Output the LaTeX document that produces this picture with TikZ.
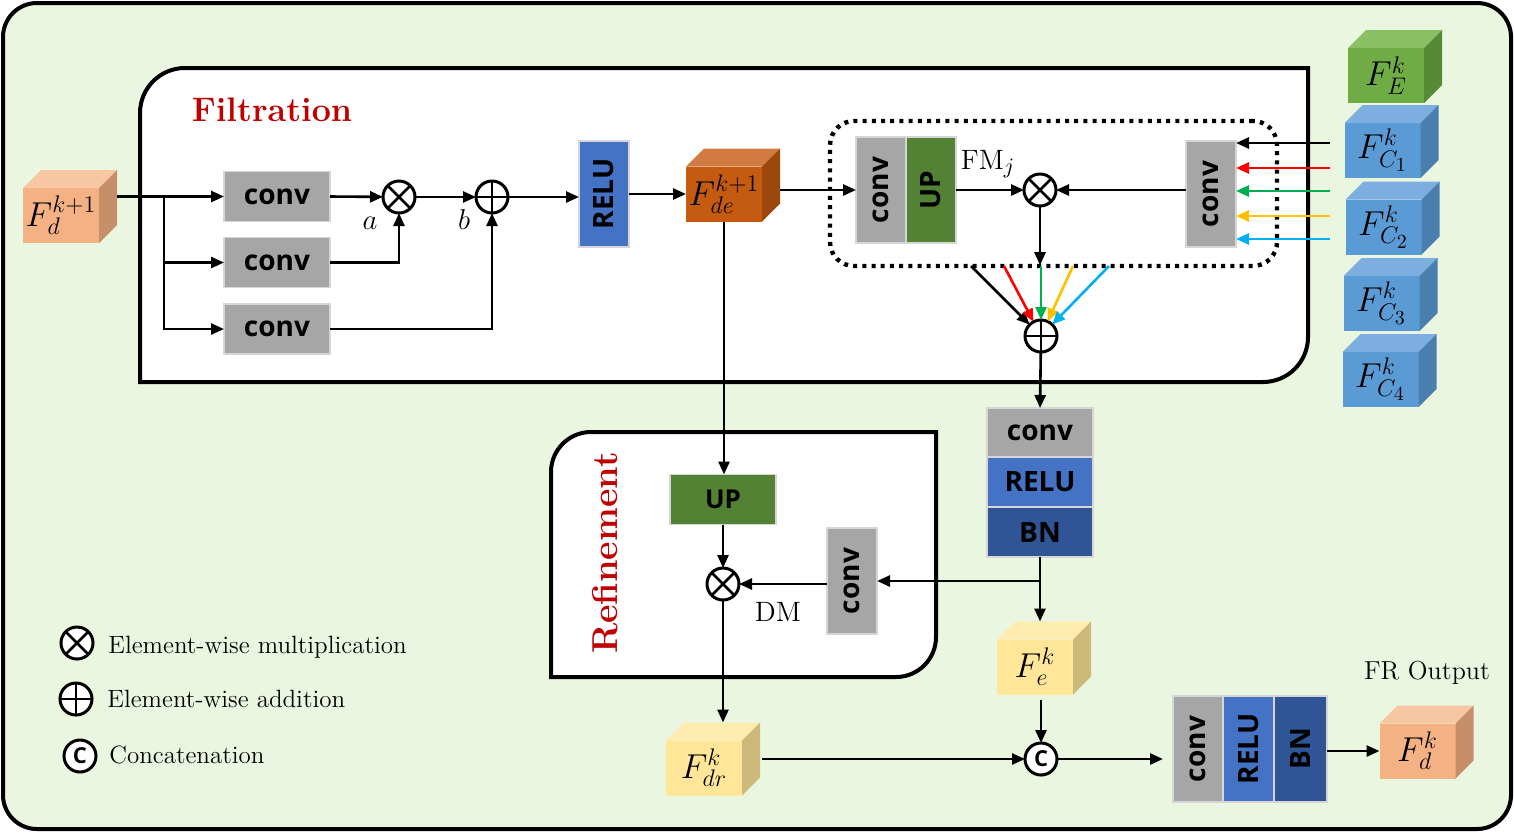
\documentclass[tikz,border=0pt]{standalone}
\usepackage{fontspec}
\newfontfamily\boxfont{Open Sans}
\usetikzlibrary{arrows.meta,calc}
\DeclareMathSizes{16}{16}{12}{10}
\DeclareMathSizes{14}{14}{11}{9}

\definecolor{bggreen}{HTML}{EBF6E0}
\definecolor{convgray}{HTML}{A6A6A6}
\definecolor{boxedge}{HTML}{D6D6D6}
\definecolor{relublue}{HTML}{4472C4}
\definecolor{bnblue}{HTML}{2F5597}
\definecolor{upgreen}{HTML}{548235}
\definecolor{titlered}{HTML}{C00000}
\definecolor{orF}{HTML}{F4B183}\definecolor{orT}{HTML}{F7C7A3}\definecolor{orS}{HTML}{C68F69}
\definecolor{deF}{HTML}{C55A11}\definecolor{deT}{HTML}{D27B40}\definecolor{deS}{HTML}{9D470D}
\definecolor{geF}{HTML}{6FAC46}\definecolor{geT}{HTML}{8BBF64}\definecolor{geS}{HTML}{568A34}
\definecolor{blF}{HTML}{5B9BD5}\definecolor{blT}{HTML}{7CAFE0}\definecolor{blS}{HTML}{4A7EAF}
\definecolor{yeF}{HTML}{FFE699}\definecolor{yeT}{HTML}{FFECB0}\definecolor{yeS}{HTML}{CDBA7B}
\definecolor{lred}{HTML}{FF0000}\definecolor{lgreen}{HTML}{00B050}
\definecolor{lyellow}{HTML}{FFC000}\definecolor{lcyan}{HTML}{00B0F0}

\newcommand\mycube[7]{%
  \node[cubeface,fill=#4] (#1) at (#2,#3) {#7};
  \fill[#5] (#1.north west) -- ($(#1.north west)+(18,-18)$) -- ($(#1.north east)+(18,-18)$) -- (#1.north east) -- cycle;
  \fill[#6] (#1.north east) -- ($(#1.north east)+(18,-18)$) -- ($(#1.south east)+(18,-18)$) -- (#1.south east) -- cycle;}

\newcommand\trbox[5]{\filldraw[panel] (#1,#4) -- (#1,#2+#5) .. controls (#1,#2+0.4477*#5) and (#1+0.4477*#5,#2) .. (#1+#5,#2) -- (#3,#2) -- (#3,#4-#5) .. controls (#3,#4-0.4477*#5) and (#3-0.4477*#5,#4) .. (#3-#5,#4) -- cycle;}

\begin{document}
\begin{tikzpicture}[x=0.5pt,y=-0.5pt,
  ln/.style={line width=1.25pt},
  arr/.style={line width=1.3pt,-{Triangle[length=6.5pt,width=5.5pt]}},
  blk/.style={draw=boxedge,line width=0.9pt,inner sep=0pt,outer sep=0pt,font=\boxfont\bfseries\fontsize{14}{16}\selectfont},
  hbox/.style={blk,minimum width=53pt,minimum height=25pt},
  vbox/.style={blk,minimum width=25pt,minimum height=53pt},
  op/.style={circle,draw,line width=1.5pt,fill=white,minimum size=16pt,inner sep=0pt,outer sep=0pt},
  mult/.style={op,path picture={\draw[line width=1.3pt] (path picture bounding box.north west)--(path picture bounding box.south east) (path picture bounding box.north east)--(path picture bounding box.south west);}},
  plus/.style={op,path picture={\draw[line width=1.3pt] (path picture bounding box.north)--(path picture bounding box.south) (path picture bounding box.east)--(path picture bounding box.west);}},
  concat/.style={op,font=\boxfont\bfseries\fontsize{11}{12}\selectfont},
  cubeface/.style={inner sep=0pt,outer sep=0pt,minimum width=38pt,minimum height=27.5pt,font=\fontsize{16}{18}\selectfont},
  lbl/.style={font=\fontsize{14}{16}\selectfont},
  legend/.style={font=\fontsize{12.5}{14}\selectfont,anchor=base west,inner sep=0pt},
  title/.style={text=titlered,font=\bfseries\fontsize{17}{20}\selectfont},
  panel/.style={draw=black,line width=2pt,fill=white},
  dotbox/.style={draw,line width=2.2pt,dash pattern=on 2pt off 2.6pt,rounded corners=12pt,inner sep=0pt,minimum width=223.5pt,minimum height=72.5pt}
]
\useasboundingbox (0,0) rectangle (1514,832);
\filldraw[fill=bggreen,draw=black,line width=2pt,rounded corners=17pt] (3,3) rectangle (1511,829);

% panels
\trbox{140}{68}{1308}{382}{45}
\trbox{551}{432}{936}{677}{40}
\node[title] (tfilt) at (272,110) {Filtration};
\node[title,rotate=90,font=\bfseries\fontsize{18}{20}\selectfont] (tref) at (605,553) {Refinement};

% filtration part
\mycube{fd1}{61}{215.5}{orF}{orT}{orS}{$F_d^{k+1}$}
\node[hbox,fill=convgray] (c1) at (277,196.5) {conv};
\node[hbox,fill=convgray] (c2) at (277,262.5) {conv};
\node[hbox,fill=convgray] (c3) at (277,329) {conv};
\node[mult] (m1) at (399,197) {};
\node[plus] (p1) at (492,197) {};
\node[vbox,fill=relublue] (r1) at (604,194) {\rotatebox{90}{RELU}};
\mycube{fde}{724}{194}{deF}{deT}{deS}{$F_{de}^{k+1}$}
\node[dotbox] (dbox) at (1053.5,193.5) {};
\node[vbox,fill=convgray] (cuc) at (881,190) {\rotatebox{90}{conv}};
\node[vbox,fill=upgreen] (cuu) at (931,190) {\rotatebox{90}{UP}};
\node[mult] (m2) at (1040,190) {};
\node[vbox,fill=convgray] (rc) at (1211,194) {\rotatebox{90}{conv}};
\node[plus] (p2) at (1041,336) {};
\node[lbl] (fmj) at (988,164) {FM$_j$};
\node[lbl] (la) at (370,223) {$a$};
\node[lbl] (lb) at (464,219) {$b$};

% encoder cubes
\mycube{fE}{1386}{75.5}{geF}{geT}{geS}{$F_E^k$}
\mycube{fc1}{1382.5}{150.5}{blF}{blT}{blS}{$F_{C_1}^k$}
\mycube{fc2}{1383.5}{227}{blF}{blT}{blS}{$F_{C_2}^k$}
\mycube{fc3}{1381.5}{303.5}{blF}{blT}{blS}{$F_{C_3}^k$}
\mycube{fc4}{1380.5}{379.5}{blF}{blT}{blS}{$F_{C_4}^k$}

% stack 1
\node[blk,fill=convgray,minimum width=53pt,minimum height=24.5pt] (sc) at (1040,432.5) {conv};
\node[blk,fill=relublue,minimum width=53pt,minimum height=25pt] (sr) at (1040,482) {RELU};
\node[blk,fill=bnblue,minimum width=53pt,minimum height=25pt] (sb) at (1040,532) {BN};

% refinement part
\node[hbox,fill=upgreen,font=\boxfont\bfseries\fontsize{13}{15}\selectfont] (up2) at (723,499.5) {UP};
\node[mult] (m3) at (723,584) {};
\node[vbox,fill=convgray] (rcv) at (852,581) {\rotatebox{90}{conv}};
\node[lbl] (dm) at (778,612) {DM};

% bottom row
\mycube{fe}{1035}{667}{yeF}{yeT}{yeS}{$F_e^k$}
\mycube{fdr}{704}{768}{yeF}{yeT}{yeS}{$F_{dr}^k$}
\node[concat] (cc) at (1041,759) {C};
\node[blk,fill=convgray,minimum width=25pt,minimum height=53pt] (s2c) at (1198,749) {\rotatebox{90}{conv}};
\node[blk,fill=relublue,minimum width=25.5pt,minimum height=53pt] (s2r) at (1248.5,749) {\rotatebox{90}{RELU}};
\node[blk,fill=bnblue,minimum width=26.5pt,minimum height=53pt] (s2b) at (1300.5,749) {\rotatebox{90}{BN}};
\mycube{fdo}{1417.5}{751}{orF}{orT}{orS}{$F_d^k$}
\node[font=\fontsize{13}{15}\selectfont] (fro) at (1427,673) {FR Output};

% legend
\node[mult] (lm) at (77,643) {};
\node[legend] (lmt) at (108,653) {Element-wise multiplication};
\node[plus] (lp) at (76,699) {};
\node[legend] (lpt) at (107,707) {Element-wise addition};
\node[concat] (lc) at (80,756) {C};
\node[legend] (lct) at (109,763) {Concatenation};

% connectors: filtration
\coordinate (br) at ($(fd1.east |- c1)+(65,0)$);
\draw[arr] ($(fd1.east |- c1)+(18,0)$) -- (c1.west);
\draw[arr] (br) |- (c2.west);
\draw[arr] (br) |- (c3.west);
\draw[arr] (c1.east) -- (m1);
\draw[arr] (c2.east) -| (m1.south);
\draw[arr] (c3.east) -| (p1.south);
\draw[arr] (m1) -- (p1);
\draw[arr] (p1) -- (r1.west |- p1);
\draw[arr] (r1.east |- fde.west) -- (fde.west);
\draw[arr] ($(fde.east |- cuc)+(18,0)$) -- (cuc.west);
\draw[arr] (cuu.east) -- (m2);
\draw[arr] (rc.west |- m2) -- (m2);
\draw[arr] (m2) -- ($(m2 |- dbox.south)+(0,-3)$);
\foreach \yy/\cl [count=\i] in {143/black,168/lred,191/lgreen,216/lyellow,239/lcyan}
  {\coordinate (in\i) at (1330,\yy); \draw[arr,\cl] (in\i) -- (rc.east |- in\i);}
\foreach \xx/\cl [count=\i] in {971/black,1004/lred,1041/lgreen,1073/lyellow,1109/lcyan}
  {\coordinate (out\i) at (\xx,266); \draw[arr,\cl] (out\i) -- (p2);}
\draw[arr] (p2) -- (sc.north);

% connectors: refinement & bottom
\draw[arr] (fde.south) -- (fde.south |- up2.north);
\draw[arr] (up2.south) -- (m3);
\draw[arr] (sb.south) -- ($(sb.south |- fe.north)+(0,-18)$);
\draw[arr] (sb.south |- rcv.east) -- (rcv.east);
\draw[arr] (rcv.west |- m3) -- (m3);
\draw[arr] (m3) -- ($(m3 |- fdr.north)+(0,-18)$);
\draw[arr] ($(fe.south -| cc)+(0,5)$) -- (cc);
\draw[arr] ($(fdr.east |- cc)+(20,0)$) -- (cc);
\draw[arr] (cc) -- ($(s2c.west |- cc)+(-10,0)$);
\draw[arr] (s2b.east |- fdo.west) -- (fdo.west);
\end{tikzpicture}
\end{document}
